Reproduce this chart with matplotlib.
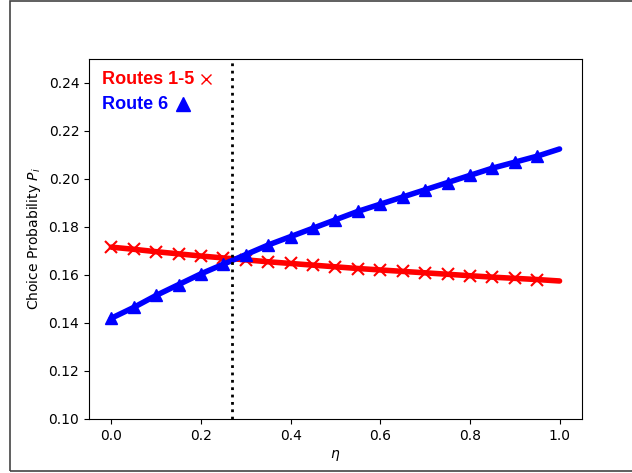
import numpy as np
import matplotlib.pyplot as plt
from matplotlib.transforms import IdentityTransform
from matplotlib.patches import Rectangle

# eta values (markers on all but the last point)
eta = [0.00, 0.05, 0.10, 0.15, 0.20, 0.25, 0.30, 0.35, 0.40, 0.45, 0.50,
       0.55, 0.60, 0.65, 0.70, 0.75, 0.80, 0.85, 0.90, 0.95, 1.00]

# choice probability, routes 1-5 (each)
p_routes15 = [0.1716, 0.1707, 0.1697, 0.1688, 0.1679, 0.1671, 0.1663, 0.1655,
              0.1648, 0.1641, 0.1634, 0.1627, 0.1621, 0.1615, 0.1609, 0.1603,
              0.1597, 0.1591, 0.1586, 0.1581, 0.1575]

# choice probability, route 6
p_route6 = [0.1420, 0.1465, 0.1515, 0.1560, 0.1605, 0.1645, 0.1685, 0.1725,
            0.1760, 0.1795, 0.1830, 0.1865, 0.1895, 0.1925, 0.1955, 0.1985,
            0.2015, 0.2045, 0.2070, 0.2095, 0.2125]

eta_cross = 0.27
labels = ['Routes 1-5', 'Route 6']

fig = plt.figure(figsize=(6.32, 4.73), dpi=100)
ax = fig.add_axes([0.1408, 0.1142, 0.780, 0.7611])

ax.plot(eta, p_routes15, color='red', lw=4, solid_capstyle='round')
ax.plot(eta[:-1], p_routes15[:-1], ls='none', color='red', marker='x', ms=8, mew=1.5)
ax.plot(eta, p_route6, color='blue', lw=4, solid_capstyle='round')
ax.plot(eta[:-1], p_route6[:-1], ls='none', color='blue', marker='^', ms=8)
ax.axvline(eta_cross, color='black', ls=':', lw=2)

ax.set_xlim(-0.05, 1.05)
ax.set_ylim(0.10, 0.25)
ax.set_xticks([0.0, 0.2, 0.4, 0.6, 0.8, 1.0])
ax.set_yticks([0.10, 0.12, 0.14, 0.16, 0.18, 0.20, 0.22, 0.24])
ax.set_xlabel(r'$\eta$')
ax.set_ylabel(r'Choice Probability $P_i$')

# hand made legend: coloured bold label followed by its marker
font = dict(family='Liberation Sans', weight='bold', size=13)
t1 = ax.text(0.026, 0.931, labels[0], color='red', transform=ax.transAxes,
             va='baseline', **font)
t2 = ax.text(0.026, 0.861, labels[1], color='blue', transform=ax.transAxes,
             va='baseline', **font)
fig.canvas.draw()
r = fig.canvas.get_renderer()
b1 = t1.get_window_extent(r)
b2 = t2.get_window_extent(r)
ax.plot([b1.x1 + 12], [b1.y0 + 9], transform=IdentityTransform(), ls='none',
        color='red', marker='x', ms=7.5, mew=1, clip_on=False)
ax.plot([b2.x1 + 15], [b2.y0 + 9], transform=IdentityTransform(), ls='none',
        color='blue', marker='^', ms=9.5, clip_on=False)

# outer frame of the screenshot
fig.patches.append(Rectangle((0.0158, 0.0042), 1.0, 0.994, transform=fig.transFigure,
                             fill=False, ec='#444444', lw=1.2, clip_on=False))

fig.savefig('out.png', dpi=100)
